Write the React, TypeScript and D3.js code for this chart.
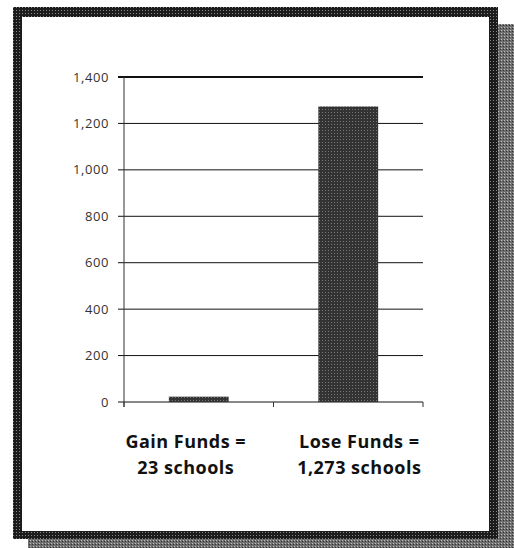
import React from "react";
import * as d3 from "d3";

const categories = ["Gain Funds", "Lose Funds"];
const values = [23, 1273];
const labelLine1 = ["Gain Funds =", "Lose Funds ="];
const labelLine2 = ["23 schools", "1,273 schools"];
const yTicks = [0, 200, 400, 600, 800, 1000, 1200, 1400];

const W = 514;
const H = 548;

export default function App() {
  const x = d3.scaleBand<string>().domain(categories).range([124, 423]).padding(0);
  const y = d3.scaleLinear().domain([0, 1400]).range([402, 77]);
  const fmt = d3.format(",");
  const barW = x.bandwidth() * 0.4;
  const labelShift = [-13, 11];

  return (
    <svg
      width={W}
      height={H}
      style={{ position: "absolute", left: 0, top: 0, display: "block" }}
    >
      <defs>
        <pattern id="tex" width="3" height="3" patternUnits="userSpaceOnUse">
          <rect width="3" height="3" fill="#333" />
          <rect x="1" y="1" width="1" height="1" fill="#777" />
        </pattern>
        <pattern id="shadowTex" width="3" height="3" patternUnits="userSpaceOnUse">
          <rect width="3" height="3" fill="#6f6f6f" />
          <rect x="0" y="0" width="1" height="1" fill="#bbb" />
          <rect x="2" y="1" width="1" height="1" fill="#333" />
        </pattern>
        <pattern id="frameTex" width="3" height="3" patternUnits="userSpaceOnUse">
          <rect width="3" height="3" fill="#1c1c1c" />
          <rect x="1" y="1" width="1" height="1" fill="#888" />
        </pattern>
      </defs>
      <rect x={0} y={0} width={W} height={H} fill="#fff" />
      {/* shadow */}
      <rect x={28} y={24} width={486} height={524} fill="url(#shadowTex)" />
      {/* frame */}
      <rect x={13} y={7} width={485} height={532} fill="url(#frameTex)" />
      <rect x={22} y={17} width={467} height={514} fill="#fff" />

      {/* gridlines */}
      {yTicks.map((t) => (
        <line
          key={"g" + t}
          x1={118}
          x2={423}
          y1={y(t)}
          y2={y(t)}
          stroke="#111"
          strokeWidth={t === 1400 ? 2 : 1}
        />
      ))}
      {/* y axis */}
      <line x1={124} x2={124} y1={y(1400)} y2={y(0) + 5} stroke="#333" strokeWidth={1} />
      {yTicks.map((t) => (
        <text
          key={"t" + t}
          x={109}
          y={y(t)}
          dy="0.35em"
          textAnchor="end"
          fontFamily="Open Sans, sans-serif"
          fontSize={13}
          letterSpacing={0.6}
          fill="#333"
        >
          {fmt(t)}
        </text>
      ))}
      {/* x ticks */}
      {[...categories.map((c) => x(c) as number), 423].map((px, i) => (
        <line key={"xt" + i} x1={px} x2={px} y1={y(0)} y2={y(0) + 5} stroke="#333" />
      ))}
      {/* bars */}
      {categories.map((c, i) => (
        <rect
          key={c}
          x={(x(c) as number) + (x.bandwidth() - barW) / 2}
          y={y(values[i])}
          width={barW}
          height={y(0) - y(values[i])}
          fill="url(#tex)"
        />
      ))}
      {/* category labels */}
      {categories.map((c, i) => {
        const cx = (x(c) as number) + x.bandwidth() / 2 + labelShift[i];
        return (
          <g key={"l" + c} fontFamily="Open Sans, sans-serif" fontWeight="bold" fontSize={18} letterSpacing={0.5} fill="#111" textAnchor="middle">
            <text x={cx} y={448}>{labelLine1[i]}</text>
            <text x={cx} y={474}>{labelLine2[i]}</text>
          </g>
        );
      })}
    </svg>
  );
}
